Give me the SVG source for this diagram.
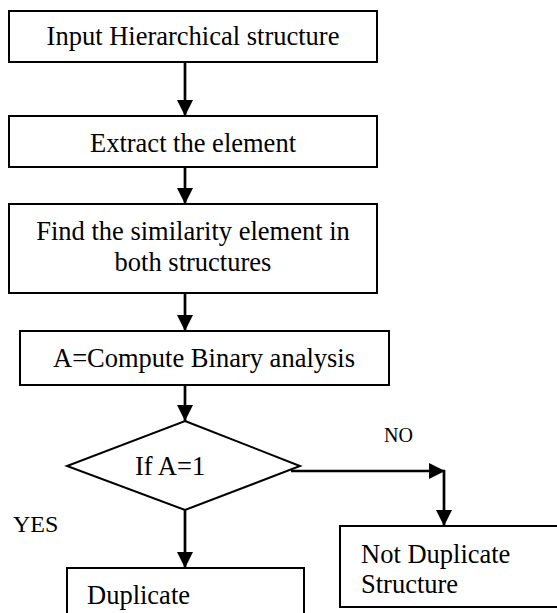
<svg xmlns="http://www.w3.org/2000/svg" width="557" height="613" viewBox="0 0 557 613">
  <style>
    .box { fill: #ffffff; stroke: #000000; stroke-width: 2; }
    .t { font-family: "Liberation Serif", "Times New Roman", serif; font-size: 26.5px; fill: #000000; }
    .lbl { font-family: "Liberation Serif", "Times New Roman", serif; fill: #000000; }
    .conn { fill: none; stroke: #000000; stroke-width: 2.7; }
  </style>
  <defs>
    <marker id="arrow" markerUnits="userSpaceOnUse" markerWidth="16" markerHeight="16" refX="16" refY="8" orient="auto" viewBox="0 0 16 16">
      <path d="M0,0 L16,8 L0,16 z" fill="#000000"/>
    </marker>
  </defs>
  <rect x="0" y="0" width="557" height="613" fill="#ffffff"/>

  <g id="connectors">
    <line class="conn" x1="185" y1="62" x2="185" y2="116" marker-end="url(#arrow)"/>
    <line class="conn" x1="185" y1="167" x2="185" y2="204" marker-end="url(#arrow)"/>
    <line class="conn" x1="185" y1="293" x2="185" y2="331" marker-end="url(#arrow)"/>
    <line class="conn" x1="185" y1="385" x2="185" y2="421" marker-end="url(#arrow)"/>
    <line class="conn" x1="291" y1="471" x2="445" y2="471" marker-end="url(#arrow)"/>
    <line class="conn" x1="444" y1="470" x2="444" y2="526" marker-end="url(#arrow)"/>
    <line class="conn" x1="185" y1="510" x2="185" y2="568" marker-end="url(#arrow)"/>
    <text class="lbl" x="384" y="442" font-size="20">NO</text>
    <text class="lbl" x="13" y="532" font-size="24">YES</text>
  </g>

  <g id="input">
    <rect class="box" x="9" y="11" width="368" height="51"/>
    <text class="t" x="193" y="45" text-anchor="middle">Input Hierarchical structure</text>
  </g>
  <g id="extract">
    <rect class="box" x="9" y="116" width="368" height="51"/>
    <text class="t" x="193" y="152" text-anchor="middle">Extract the element</text>
  </g>
  <g id="similarity">
    <rect class="box" x="9" y="204" width="368" height="89"/>
    <text class="t" x="193" y="240" text-anchor="middle">Find the similarity element in</text>
    <text class="t" x="193" y="271" text-anchor="middle">both structures</text>
  </g>
  <g id="compute">
    <rect class="box" x="20" y="331" width="369" height="54"/>
    <text class="t" x="204" y="367" text-anchor="middle">A=Compute Binary analysis</text>
  </g>
  <g id="decision">
    <polygon class="box" points="185,421 300,466 185,510 67,466"/>
    <text class="t" x="135" y="475">If A=1</text>
  </g>
  <g id="not-duplicate">
    <rect class="box" x="340" y="526" width="222" height="81"/>
    <text class="t" x="361" y="563">Not Duplicate</text>
    <text class="t" x="361" y="593">Structure</text>
  </g>
  <g id="duplicate">
    <rect class="box" x="67" y="568" width="237" height="60"/>
    <text class="t" x="87" y="604">Duplicate</text>
  </g>
</svg>
